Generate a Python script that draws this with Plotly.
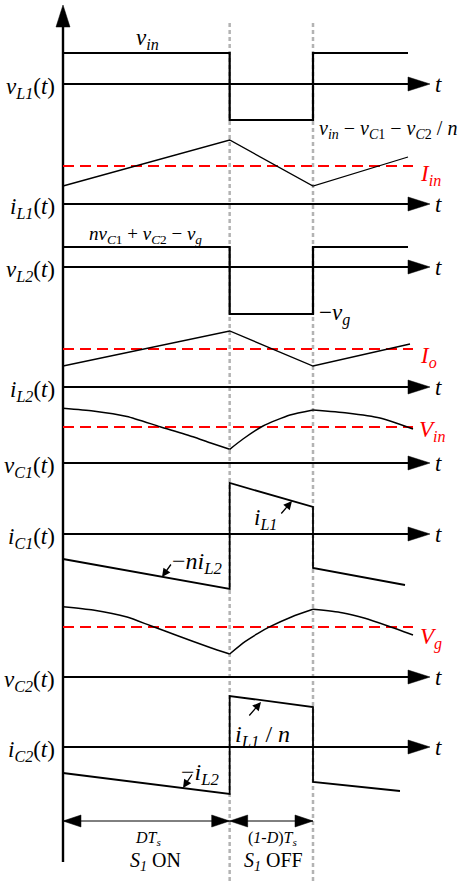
import plotly.graph_objects as go

# ---------------- data (time in units of Ts, values in diagram units above each zero axis)
D = 2 / 3          # duty ratio: switching instant
TS = 1.0           # end of the switching period

vL1_t = [0, D, D, TS, TS, 1.38]
vL1_v = [31, 31, -36, -36, 31, 31]

iL1_t = [0, D, TS, 1.38]
iL1_v = [18, 64, 18, 47]
I_in = 38

vL2_t = [0, D, D, TS, TS, 1.38]
vL2_v = [20, 20, -47, -47, 20, 20]

iL2_t = [0, D, TS, 1.388]
iL2_v = [21, 56, 21, 43]
I_o = 38

vC1_t = [0, 0.12, 0.256, 0.388, 0.52, 0.588, D, 0.72, 0.80, 0.908, TS, 1.136, 1.268, 1.40]
vC1_v = [54.7, 52, 46.5, 36.3, 26.3, 20.3, 13.7, 24, 37, 48, 53, 50, 45, 34]
V_in = 36

iC1_t = [0, D, D, TS, TS, 1.368]
iC1_v = [-25, -55, 51, 27, -34, -51]

vC2_t = [0, 0.12, 0.256, 0.348, 0.456, 0.588, D, 0.728, 0.78, 0.828, 0.916, TS, 1.116, 1.208, 1.30, 1.40]
vC2_v = [70.3, 67, 60, 51.5, 41.5, 29.5, 23, 35.3, 43.7, 50.3, 60.3, 67.7, 64.3, 58.7, 51, 42]
V_g = 50

iC2_t = [0, D, D, TS, TS, 1.348]
iC2_v = [-26, -47, 51, 40, -35, -44]

# ---------------- layout of the diagram (positions / styles)
PX_PER_T = 250.0                  # horizontal scale (pixels per Ts)
BASE = dict(vL1=84, iL1=204, vL2=267, iL2=387, vC1=463, iC1=534, vC2=677, iC2=747)
AX_END = 1.468                    # tip of time axis arrows
REF_END = 1.40                    # end of red dashed reference lines
FONT = "Liberation Serif, Times New Roman, serif"
RED = "#ff0000"

fig = go.Figure()


def line(xs, ys, width=2.0, color="black", dash=None, shape="linear", smoothing=None):
    ln = dict(color=color, width=width, dash=dash, shape=shape)
    if smoothing is not None:
        ln["smoothing"] = smoothing
    fig.add_trace(go.Scatter(x=xs, y=ys, mode="lines", hoverinfo="skip", line=ln))


def head(tip_x, tip_y, direction, length_px=22, half_px=7):
    L = length_px / PX_PER_T
    h = half_px / PX_PER_T
    if direction == "right":
        xs = [tip_x, tip_x - L, tip_x - L, tip_x]
        ys = [tip_y, tip_y - half_px, tip_y + half_px, tip_y]
    elif direction == "left":
        xs = [tip_x, tip_x + L, tip_x + L, tip_x]
        ys = [tip_y, tip_y - half_px, tip_y + half_px, tip_y]
    else:  # up
        xs = [tip_x, tip_x - h, tip_x + h, tip_x]
        ys = [tip_y, tip_y + length_px, tip_y + length_px, tip_y]
    fig.add_trace(go.Scatter(x=xs, y=ys, mode="lines", fill="toself", fillcolor="black",
                             line=dict(color="black", width=0.5), hoverinfo="skip"))


def at(base, vals):
    return [base - v for v in vals]


def segments(ts, vs):
    """split a curve at the switching instants so corners stay sharp"""
    cuts = [i for i, t in enumerate(ts) if t in (D, TS)]
    out, start = [], 0
    for c in cuts:
        out.append((ts[start:c + 1], vs[start:c + 1]))
        start = c
    out.append((ts[start:], vs[start:]))
    return [s for s in out if len(s[0]) > 1]


# dotted switching instants
for tt in (D, TS):
    line([tt, tt], [23, 881], width=2.5, color="#b3b3b3", dash="4px,3px")

# time axes
for key, b in BASE.items():
    line([0, AX_END - 0.08], [b, b], width=2.2)
    head(AX_END, b, "right")

# main vertical axis
line([0, 0], [862, 26], width=2.4)
head(0, 5, "up", length_px=22, half_px=7)

# red reference levels
for key, val in (("iL1", I_in), ("iL2", I_o), ("vC1", V_in), ("vC2", V_g)):
    line([0, REF_END], [BASE[key] - val] * 2, width=2, color=RED, dash="11px,6px")

# waveforms
line(vL1_t, at(BASE["vL1"], vL1_v), width=2.2)
line(iL1_t, at(BASE["iL1"], iL1_v), width=1.3)
line(vL2_t, at(BASE["vL2"], vL2_v), width=2.2)
line(iL2_t, at(BASE["iL2"], iL2_v), width=1.3)
for ts, vs in segments(vC1_t, vC1_v):
    line(ts, at(BASE["vC1"], vs), width=1.5, shape="spline", smoothing=0.6)
line(iC1_t, at(BASE["iC1"], iC1_v), width=1.8)
for ts, vs in segments(vC2_t, vC2_v):
    line(ts, at(BASE["vC2"], vs), width=1.5, shape="spline", smoothing=0.6)
line(iC2_t, at(BASE["iC2"], iC2_v), width=1.8)

# dimension arrows
DIM_Y = 821
for a, b in ((0, D), (D, TS)):
    line([a, b], [DIM_Y, DIM_Y], width=1.0)
    head(a, DIM_Y, "left", length_px=18, half_px=6)
    head(b, DIM_Y, "right", length_px=18, half_px=6)

annotations = []


def txt(text, x, y, size=23, color="black", xanchor="center", yanchor="middle"):
    annotations.append(dict(text=text, x=x, y=y, xref="x", yref="y", showarrow=False,
                            font=dict(family=FONT, size=size, color=color),
                            xanchor=xanchor, yanchor=yanchor))


def pointer(tail_x, tail_y, tip_x, tip_y):
    annotations.append(dict(text="", x=tip_x, y=tip_y, ax=tail_x, ay=tail_y,
                            xref="x", yref="y", axref="x", ayref="y", showarrow=True,
                            arrowhead=2, arrowsize=1.3, arrowwidth=1.3, arrowcolor="black"))


# left signal labels
left_labels = {
    "vL1": "<i>v</i><sub><i>L1</i></sub>(<i>t</i>)",
    "iL1": "<i>i</i><sub><i>L1</i></sub>(<i>t</i>)",
    "vL2": "<i>v</i><sub><i>L2</i></sub>(<i>t</i>)",
    "iL2": "<i>i</i><sub><i>L2</i></sub>(<i>t</i>)",
    "vC1": "<i>v</i><sub><i>C1</i></sub>(<i>t</i>)",
    "iC1": "<i>i</i><sub><i>C1</i></sub>(<i>t</i>)",
    "vC2": "<i>v</i><sub><i>C2</i></sub>(<i>t</i>)",
    "iC2": "<i>i</i><sub><i>C2</i></sub>(<i>t</i>)",
}
for key, label in left_labels.items():
    txt(label, -0.024, BASE[key] + 4, xanchor="right")

# "t" at axis ends
for key in ("vL1", "iL1", "vL2", "iL2", "vC1", "iC1", "vC2", "iC2"):
    txt("<i>t</i>", 1.50, BASE[key], size=23)

txt("<i>v</i><sub><i>in</i></sub>", 0.336, 39, size=23)
txt("<i>v</i><sub><i>in</i></sub> − <i>v</i><sub><i>C</i>1</sub> − <i>v</i><sub><i>C</i>2</sub> / <i>n</i>",
    1.016, 129, size=20, xanchor="left")
txt("<i>I</i><sub><i>in</i></sub>", 1.42, 175, size=23, color=RED, xanchor="left")
txt("<i>nv</i><sub><i>C</i>1</sub> + <i>v</i><sub><i>C</i>2</sub> − <i>v</i><sub><i>g</i></sub>",
    0.096, 235, size=19, xanchor="left")
txt("−<i>v</i><sub><i>g</i></sub>", 1.016, 314, size=23, xanchor="left")
txt("<i>I</i><sub><i>o</i></sub>", 1.42, 357, size=23, color=RED, xanchor="left")
txt("<i>V</i><sub><i>in</i></sub>", 1.416, 431, size=23, color=RED, xanchor="left")
txt("<i>i</i><sub><i>L1</i></sub>", 0.808, 519, size=23)
txt("−<i>ni</i><sub><i>L2</i></sub>", 0.536, 563, size=24)
txt("<i>V</i><sub><i>g</i></sub>", 1.42, 638, size=23, color=RED, xanchor="left")
txt("<i>i</i><sub><i>L1</i></sub> / <i>n</i>", 0.796, 736, size=24)
txt("−<i>i</i><sub><i>L2</i></sub>", 0.548, 774, size=24)
txt("<i>DT</i><sub><i>s</i></sub>", 0.34, 838, size=16)
txt("(<i>1-D</i>)<i>T</i><sub><i>s</i></sub>", 0.836, 838, size=16)
txt("<i>S</i><sub><i>1</i></sub> ON", 0.368, 861, size=20)
txt("<i>S</i><sub><i>1</i></sub> OFF", 0.84, 861, size=20)

pointer(0.868, 515, 0.916, 501)
pointer(0.436, 563, 0.396, 577)
pointer(0.74, 717, 0.792, 702)
pointer(0.52, 773, 0.48, 788)

fig.update_layout(
    width=465, height=881, autosize=False,
    margin=dict(l=0, r=0, t=0, b=0),
    paper_bgcolor="white", plot_bgcolor="white",
    showlegend=False,
    xaxis=dict(range=[-63 / PX_PER_T, (465 - 63) / PX_PER_T], visible=False, fixedrange=True),
    yaxis=dict(range=[881, 0], visible=False, fixedrange=True),
    annotations=annotations,
)

fig.write_html("out.html", config={"displayModeBar": False},
               post_script="document.body.style.margin='0';document.body.style.overflow='hidden';")
